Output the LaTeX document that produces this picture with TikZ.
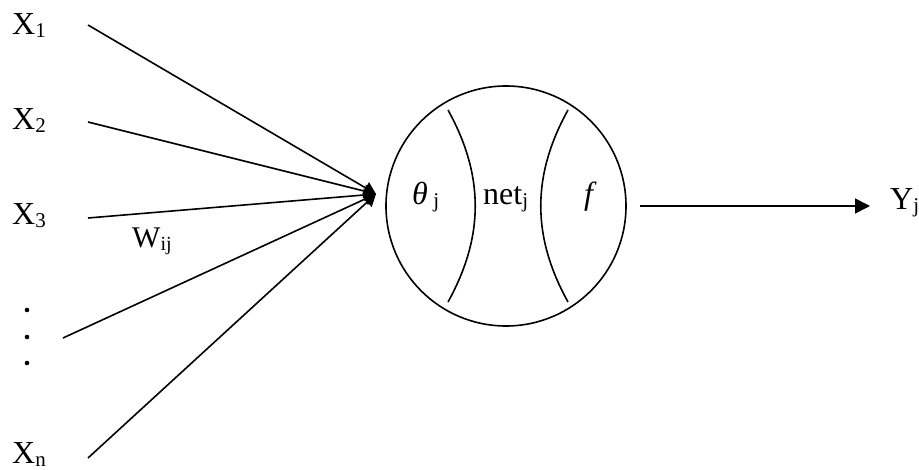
\documentclass[tikz,border=0pt]{standalone}
\usepackage{fontspec}
\setmainfont{Liberation Serif}
\usetikzlibrary{arrows.meta}
\newcommand{\lowsub}[1]{\raisebox{-3pt}{\fontsize{21}{21}\selectfont #1}}
\newcommand{\lowsubw}[1]{\raisebox{-3pt}{\fontsize{20}{20}\selectfont #1}}
\begin{document}
\begin{tikzpicture}[x=1pt,y=-1pt,
  lbl/.style={inner sep=0pt,anchor=base west,font=\fontsize{32}{32}\selectfont},
  wire/.style={line width=1.6pt},
  intip/.style={-{Triangle[length=12pt,width=13pt]}},
  outtip/.style={-{Triangle[length=15pt,width=15pt]}}]
\useasboundingbox (0,0) rectangle (919,470);
% input labels
\node[lbl] (x1) at (12,35) {X\lowsub{1}};
\node[lbl] (x2) at (12,130) {X\lowsub{2}};
\node[lbl] (x3) at (12,225) {X\lowsub{3}};
\node[lbl] (xn) at (12,464) {X\lowsub{n}};
\node[inner sep=0pt,anchor=base west,font=\fontsize{30}{30}\selectfont] (w) at (132,248) {W\lowsubw{ij}};
% dots
\fill (27,310) circle (2.3);
\fill (27,337) circle (2.3);
\fill (27,363) circle (2.3);
% neuron
\node[draw,circle,line width=1.6pt,minimum size=240pt,inner sep=0pt] (neuron) at (506,206) {};
\coordinate (la) at (448,110);
\coordinate (lb) at (448,302);
\coordinate (ra) at (568,110);
\coordinate (rb) at (568,302);
\draw[wire] (la) to[bend left=29] (lb);
\draw[wire] (ra) to[bend right=29] (rb);
\node[lbl] (theta) at (412,205) {\itshape θ\,\lowsub{\upshape j}};
\node[lbl] (net) at (483,205) {net\lowsub{j}};
\node[lbl] (f) at (584,205) {\itshape f};
% connectors
\coordinate (tip) at (376,194);
\coordinate (s1) at (88,25);
\coordinate (s2) at (88,122);
\coordinate (s3) at (88,218);
\coordinate (s4) at (63,338);
\coordinate (s5) at (88,458);
\foreach \s in {s1,s2,s3,s4,s5} \draw[wire,intip] (\s) -- (tip);
\coordinate (o1) at (640,206);
\coordinate (o2) at (870,206);
\node[lbl] (y) at (890,210) {Y\lowsub{j}};
\draw[wire,outtip] (o1) -- (o2);
\end{tikzpicture}
\end{document}
